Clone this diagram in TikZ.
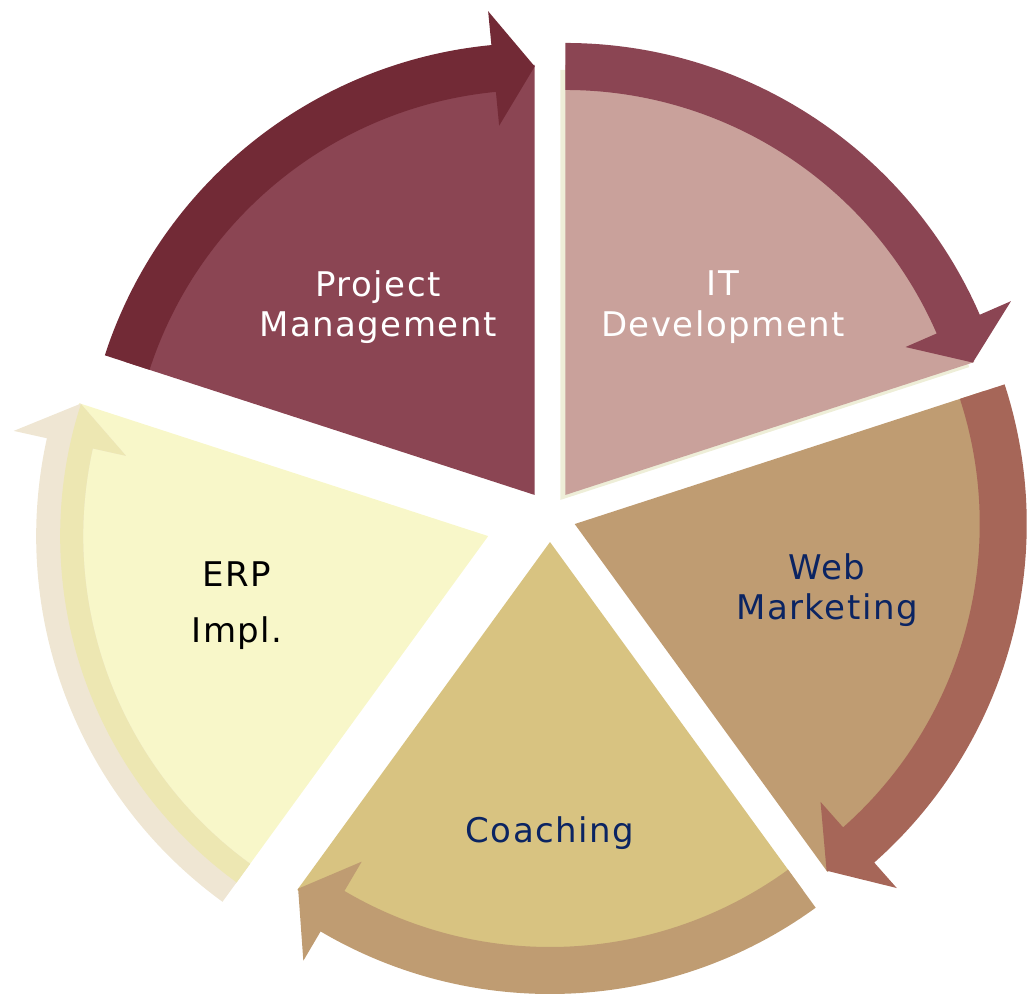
\documentclass[tikz,border=0pt]{standalone}
\usepackage{fontspec}
\setmainfont{DejaVu Sans}[LetterSpace=4.4]
\definecolor{pmwedge}{HTML}{8B4553}
\definecolor{pmband}{HTML}{722A36}
\definecolor{itwedge}{HTML}{C9A19B}
\definecolor{itrim}{HTML}{EEEED8}
\definecolor{webwedge}{HTML}{BF9C72}
\definecolor{webband}{HTML}{A66658}
\definecolor{coachwedge}{HTML}{D8C381}
\definecolor{erpwedge}{HTML}{F8F7C9}
\definecolor{erpouter}{HTML}{EFE6D3}
\definecolor{erpinner}{HTML}{EDE7B2}
\definecolor{navytext}{HTML}{0B2462}

\begin{document}
\begin{tikzpicture}[x=0.75pt,y=0.75pt,
   lbl/.style={align=center,font=\fontsize{25.5}{30.5}\selectfont}]
   \useasboundingbox (-550,-485) rectangle (484,516);
   % Project Management
   \begin{scope}[shift={(126:26)}]
   \fill[pmwedge] (0,0) -- (162:430) arc[start angle=162,end angle=90,radius=430] -- cycle;
   \fill[pmband] (162:452) arc[start angle=162,end angle=95.5,radius=452] -- (95.5:486) -- (90:428.5)
      -- (95.5:371) -- (95.5:405) arc[start angle=95.5,end angle=162,radius=405] -- cycle;
   \end{scope}
   % IT Development
   \begin{scope}[shift={(54:26)}]
   \fill[itrim] (-5,-5) -- ++(90:430) arc[start angle=90,end angle=18,radius=430] -- cycle;
   \fill[itwedge] (0,0) -- (90:430) arc[start angle=90,end angle=18,radius=430] -- cycle;
   \fill[pmwedge] (90:452) arc[start angle=90,end angle=23.5,radius=452] -- (23.5:486) -- (18:428.5)
      -- (23.5:371) -- (23.5:405) arc[start angle=23.5,end angle=90,radius=405] -- cycle;
   \end{scope}
   % Web Marketing
   \begin{scope}[shift={(-18:26)}]
   \fill[webwedge] (0,0) -- (18:430) arc[start angle=18,end angle=-54,radius=430] -- cycle;
   \fill[webband] (18:452) arc[start angle=18,end angle=-48.5,radius=452] -- (-48.5:486) -- (-54:428.5)
      -- (-48.5:371) -- (-48.5:405) arc[start angle=-48.5,end angle=18,radius=405] -- cycle;
   \end{scope}
   % Coaching
   \begin{scope}[shift={(-90:26)}]
   \fill[coachwedge] (0,0) -- (-54:430) arc[start angle=-54,end angle=-126,radius=430] -- cycle;
   \fill[webwedge] (-54:452) arc[start angle=-54,end angle=-120.5,radius=452] -- (-120.5:486) -- (-126:428.5)
      -- (-120.5:371) -- (-120.5:405) arc[start angle=-120.5,end angle=-54,radius=405] -- cycle;
   \end{scope}
   % ERP
   \begin{scope}[shift={(198:65)}]
   \fill[erpwedge] (0,0) -- (234:430) arc[start angle=234,end angle=162,radius=430] -- cycle;
   \fill[erpouter] (234:452) arc[start angle=234,end angle=167.5,radius=452] -- (167.5:486) -- (162:428.5)
      -- (167.5:371) -- (167.5:405) arc[start angle=167.5,end angle=234,radius=405] -- cycle;
   \clip (0,0) circle (428);
   \fill[erpinner] (234:452) arc[start angle=234,end angle=167.5,radius=452] -- (167.5:486) -- (162:428.5)
      -- (167.5:371) -- (167.5:405) arc[start angle=167.5,end angle=234,radius=405] -- cycle;
   \end{scope}
   \node[lbl,text=white] (pm) at (-172,209) {Project\\Management};
   \node[lbl,text=white] (it) at (173,209) {IT\\Development};
   \node[lbl,text=navytext] (web) at (277,-74) {Web\\Marketing};
   \node[lbl,text=navytext] (coach) at (0,-317) {Coaching};
   \node[lbl,text=black,font=\fontsize{25.5}{42}\selectfont] (erp) at (-313,-90) {ERP\\Impl.};
\end{tikzpicture}
\end{document}
